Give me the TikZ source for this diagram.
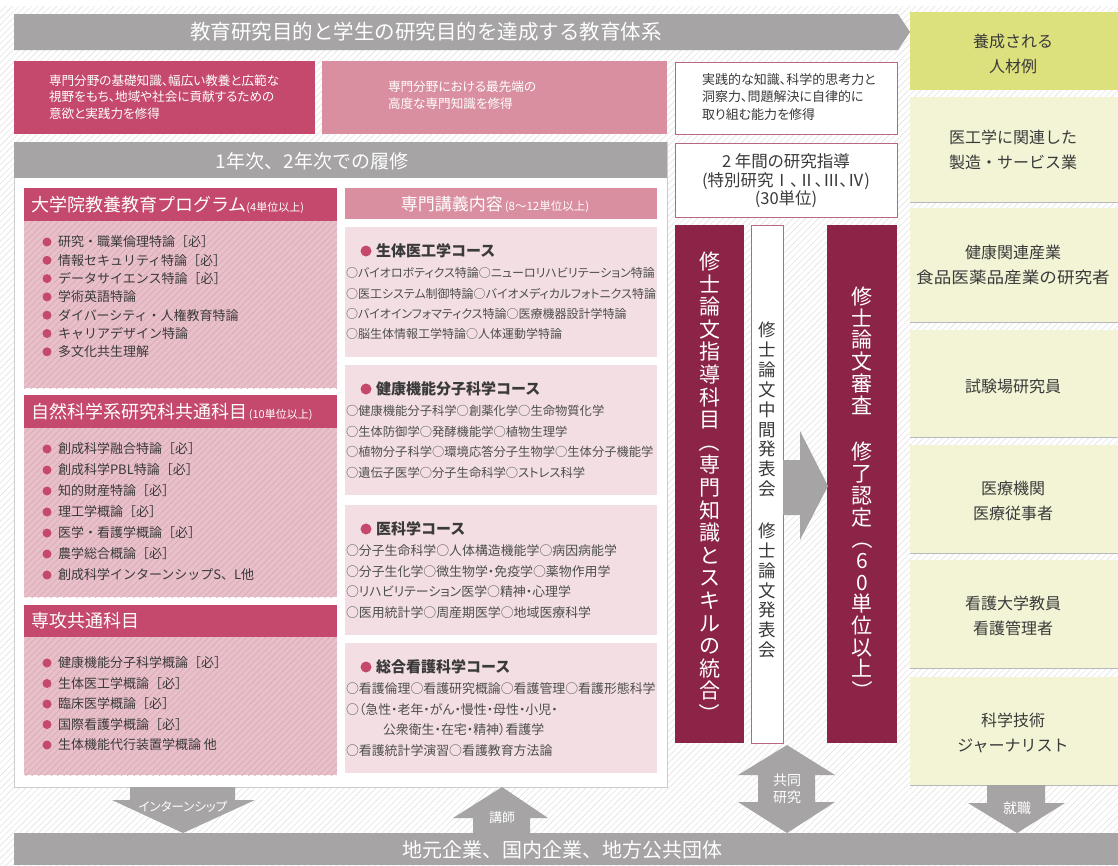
\documentclass[tikz,border=0pt]{standalone}
\usepackage{fontspec}
\setmainfont{Noto Sans CJK JP}
\newfontfamily\pfont[RawFeature=+palt]{Noto Sans CJK JP}
\usetikzlibrary{patterns.meta}
\definecolor{bannergray}{HTML}{A6A4A5}
\definecolor{darkpink}{HTML}{C4496C}
\definecolor{lightpink}{HTML}{D98F9F}
\definecolor{bodypink}{HTML}{E8C0CA}
\definecolor{bodyline}{HTML}{DDAAB7}
\definecolor{coursepink}{HTML}{F3DFE3}
\definecolor{maroon}{HTML}{8C2447}
\definecolor{yellowhead}{HTML}{DCE07D}
\definecolor{yellowlight}{HTML}{F2F4D5}
\definecolor{textdark}{HTML}{3A3A3A}
\definecolor{borderpink}{HTML}{B8687E}
\definecolor{hatchgray}{HTML}{E3E3E3}
\newcommand\fsz[2]{\fontsize{#1}{#2}\selectfont}
\newcommand\vop{\rotatebox[origin=c]{-90}{（}}
\newcommand\vcl{\rotatebox[origin=c]{-90}{）}}
\tikzset{
  bodybox/.style={fill=bodypink, postaction={pattern={Lines[angle=45,distance=4.5pt,line width=0.7pt]}, pattern color=bodyline}},
  whitetext/.style={text=white},
  darktext/.style={text=textdark},
  item/.style={anchor=west, font=\fsz{13}{15}, text=textdark},
  vstack/.style={align=center},
  blockarrow/.style={fill=bannergray},
  ybox/.style={fill=yellowlight},
  ytext/.style={align=center, font=\fsz{16}{25}, text=textdark},
  clines/.style={anchor=west, align=left, font=\pfont\fsz{12.9}{20.5}, text=textdark!90},
}
\begin{document}
\begin{tikzpicture}[x=1pt,y=-1pt, every node/.style={inner sep=0pt, outer sep=0pt}]
\useasboundingbox (0,0) rectangle (1118,865);
\fill[white] (0,0) rectangle (1118,865);
\fill[pattern={Lines[angle=45,distance=4.5pt,line width=0.6pt]}, pattern color=hatchgray] (0,6) rectangle (1118,865);

% top banner
\fill[bannergray] (14,14) -- (898,14) -- (910,32) -- (898,50) -- (14,50) -- cycle;
\node[whitetext, font=\fsz{20.5}{24}] (title) at (426,32) {教育研究目的と学生の研究目的を達成する教育体系};

% right column
\fill[yellowhead] (910,12) rectangle (1118,90);
\node[ytext] (yh) at (1013,54) {養成される\\人材例};
\foreach \ya/\yb in {97/202, 208/322, 330/437, 445/553, 560/668, 677/785}{
  \fill[ybox] (910,\ya) rectangle (1118,\yb);
  \draw[black!28, line width=0.8pt] (910,\yb) -- (1118,\yb);
}
\node[ytext] (r1) at (1013,150) {医工学に関連した\\製造・サービス業};
\node[ytext] (r2) at (1013,265) {健康関連産業\\\scalebox{1.1}[1]{食品医薬品産業の研究者}};
\node[ytext] (r3) at (1013,386) {試験場研究員};
\node[ytext] (r4) at (1013,501) {医療機関\\医療従事者};
\node[ytext] (r5) at (1013,616) {看護大学教員\\看護管理者};
\node[ytext] (r6) at (1013,733) {科学技術\\ジャーナリスト};

% goal boxes
\fill[darkpink] (14,61) rectangle (315,134);
\node[anchor=west, align=left, whitetext, font=\pfont\fsz{12.6}{16.7}] (g1) at (49,97) {専門分野の基礎知識、幅広い教養と広範な\\視野をもち、地域や社会に貢献するための\\意欲と実践力を修得};
\fill[lightpink] (322,61) rectangle (667,134);
\node[anchor=west, align=left, whitetext, font=\pfont\fsz{12.6}{16.5}] (g2) at (388,95) {専門分野における最先端の\\高度な専門知識を修得};
\filldraw[fill=white, draw=borderpink, line width=0.8pt] (675,62) rectangle (897,134);
\node[anchor=west, align=left, darktext, font=\pfont\fsz{13}{17.5}] (g3) at (702,97) {実践的な知識、科学的思考力と\\洞察力、問題解決に自律的に\\取り組む能力を修得};

% research guidance box
\filldraw[fill=white, draw=borderpink, line width=0.8pt] (675,143) rectangle (897,217);
\node[align=center, darktext, font=\pfont\fsz{16.5}{18.5}] (g4) at (786,181) {2 年間の研究指導\\(特別研究Ⅰ、Ⅱ、Ⅲ、Ⅳ)\\(30単位)};

% main panel
\filldraw[fill=white, draw=black!20, line width=0.8pt] (14,142) rectangle (667,787);
\fill[bannergray] (14,142) rectangle (667,178);
\node[whitetext, font=\fsz{19}{22}] (yr) at (312,161) {1年次、2年次での履修};

% left column
\fill[darkpink] (24,188) rectangle (337,221);
\node[anchor=west, whitetext] (h1) at (31,205) {\fsz{18}{20}大学院教養教育プログラム\fsz{11}{13}(4単位以上)};
\path[bodybox] (24,221) rectangle (337,388);
\foreach \t [count=\i] in {研究・職業倫理特論［必］, 情報セキュリティ特論［必］, データサイエンス特論［必］, 学術英語特論, ダイバーシティ・人権教育特論, キャリアデザイン特論, 多文化共生理解}{
  \fill[darkpink] (47,{242+(\i-1)*18.3}) circle[radius=4.5pt];
  \node[item] (La\i) at (58,{242+(\i-1)*18.3}) {\t};
}
\fill[darkpink] (24,395) rectangle (337,428);
\node[anchor=west, whitetext] (h2) at (31,412) {\fsz{18}{20}自然科学系研究科共通科目\fsz{11}{13}\,(10単位以上)};
\path[bodybox] (24,428) rectangle (337,597);
\foreach \t [count=\i] in {創成科学融合特論［必］, 創成科学PBL特論［必］, 知的財産特論［必］, 理工学概論［必］, 医学・看護学概論［必］, 農学総合概論［必］, 創成科学インターンシップS、L他}{
  \fill[darkpink] (47,{449+(\i-1)*21}) circle[radius=4.5pt];
  \node[item] (Lb\i) at (58,{449+(\i-1)*21}) {\t};
}
\fill[darkpink] (24,605) rectangle (337,637);
\node[anchor=west, whitetext, font=\fsz{18}{20}] (h3) at (31,621) {専攻共通科目};
\path[bodybox] (24,637) rectangle (337,775);
\foreach \t [count=\i] in {健康機能分子科学概論［必］, 生体医工学概論［必］, 臨床医学概論［必］, 国際看護学概論［必］, 生体機能代行装置学概論 他}{
  \fill[darkpink] (47,{663+(\i-1)*20.5}) circle[radius=4.5pt];
  \node[item] (Lc\i) at (58,{663+(\i-1)*20.5}) {\t};
}

% middle column
\fill[lightpink] (345,188) rectangle (657,219);
\node[whitetext] (mh) at (495,204) {\fsz{17}{19}専門講義内容\fsz{11.5}{13}\,(8〜12単位以上)};
\foreach \top/\name/\lbl in {227/c1/生体医工学コース, 365/c2/健康機能分子科学コース, 505/c3/医科学コース, 643/c4/総合看護科学コース}{
  \fill[coursepink] (345,\top) rectangle (657,{\top+130});
  \fill[darkpink] (366,{\top+24}) circle[radius=5.5pt];
  \node[anchor=west, font=\bfseries\fsz{15}{17}, text=textdark] (\name t) at (376,{\top+24}) {\lbl};
}
\node[clines, font=\pfont\fsz{12}{20.3}] (c1l) at (346,303.75) {○バイオロボティクス特論○ニューロリハビリテーション特論\\○医工システム制御特論○バイオメディカルフォトニクス特論\\○バイオインフォマティクス特論○医療機器設計学特論\\○脳生体情報工学特論○人体運動学特論};
\node[clines, font=\pfont\fsz{12.3}{20.5}] (c2l) at (346,441.75) {○健康機能分子科学○創薬化学○生命物質化学\\○生体防御学○発酵機能学○植物生理学\\○植物分子科学○環境応答分子生物学○生体分子機能学\\○遺伝子医学○分子生命科学○ストレス科学};
\node[clines] (c3l) at (346,581.75) {○分子生命科学○人体構造機能学○病因病能学\\○分子生化学○微生物学・免疫学○薬物作用学\\○リハビリテーション医学○精神・心理学\\○医用統計学○周産期医学○地域医療科学};
\node[clines] (c4l) at (346,719.75) {○看護倫理○看護研究概論○看護管理○看護形態科学\\○（急性・老年・がん・慢性・母性・小児・\\\hspace*{37pt}公衆衛生・在宅・精神）看護学\\○看護統計学演習○看護教育方法論};

% vertical bars
\fill[maroon] (675,225) rectangle (744,743);
\node[vstack, whitetext, font=\fsz{21}{22.6}] (va) at (709.5,488) {修\\士\\論\\文\\指\\導\\科\\目\\\vop\\専\\門\\知\\識\\と\\ス\\キ\\ル\\の\\統\\合\\\vcl};
\filldraw[fill=white, draw=borderpink, line width=0.8pt] (751,225) rectangle (783,743);
\node[vstack, darktext, font=\fsz{17.5}{19.9}] (vb) at (767,490) {修\\士\\論\\文\\中\\間\\発\\表\\会\\\strut\\修\\士\\論\\文\\発\\表\\会};
\fill[maroon] (827,225) rectangle (897,743);
\node[vstack, whitetext, font=\fsz{21}{21.7}] (vc) at (862,494) {修\\士\\論\\文\\審\\査\\\strut\\修\\了\\認\\定\\\vop\\6\\0\\単\\位\\以\\上\\\vcl};
\fill[blockarrow] (783,460) -- (800,460) -- (800,431) -- (828,486) -- (800,540) -- (800,515) -- (783,515) -- cycle;

% bottom bar
\fill[bannergray] (14,833) rectangle (1118,865);
\node[whitetext, font=\fsz{20}{22}] (bottom) at (562,850) {地元企業、国内企業、地方公共団体};

% block arrows
\fill[blockarrow] (130,787) -- (235,787) -- (235,800) -- (255,800) -- (183,833) -- (112,800) -- (130,800) -- cycle;
\node[whitetext, font=\pfont\fsz{12.5}{14}] (intern) at (183,807) {インターンシップ};
\fill[blockarrow] (473,833) -- (473,818) -- (453,818) -- (502,787) -- (548,818) -- (530,818) -- (530,833) -- cycle;
\node[whitetext, font=\fsz{13}{15}] (lect) at (502,818) {講師};
\fill[blockarrow] (787,745) -- (835,775) -- (815,775) -- (815,802) -- (835,802) -- (787,833) -- (738,802) -- (758,802) -- (758,775) -- (738,775) -- cycle;
\node[whitetext, align=center, font=\fsz{14}{17}] (joint) at (787,789) {共同\\研究};
\fill[blockarrow] (987,785) -- (1045,785) -- (1045,803) -- (1065,803) -- (1017,833) -- (968,803) -- (987,803) -- cycle;
\node[whitetext, font=\fsz{14}{16}] (job) at (1017,808) {就職};
\end{tikzpicture}
\end{document}
